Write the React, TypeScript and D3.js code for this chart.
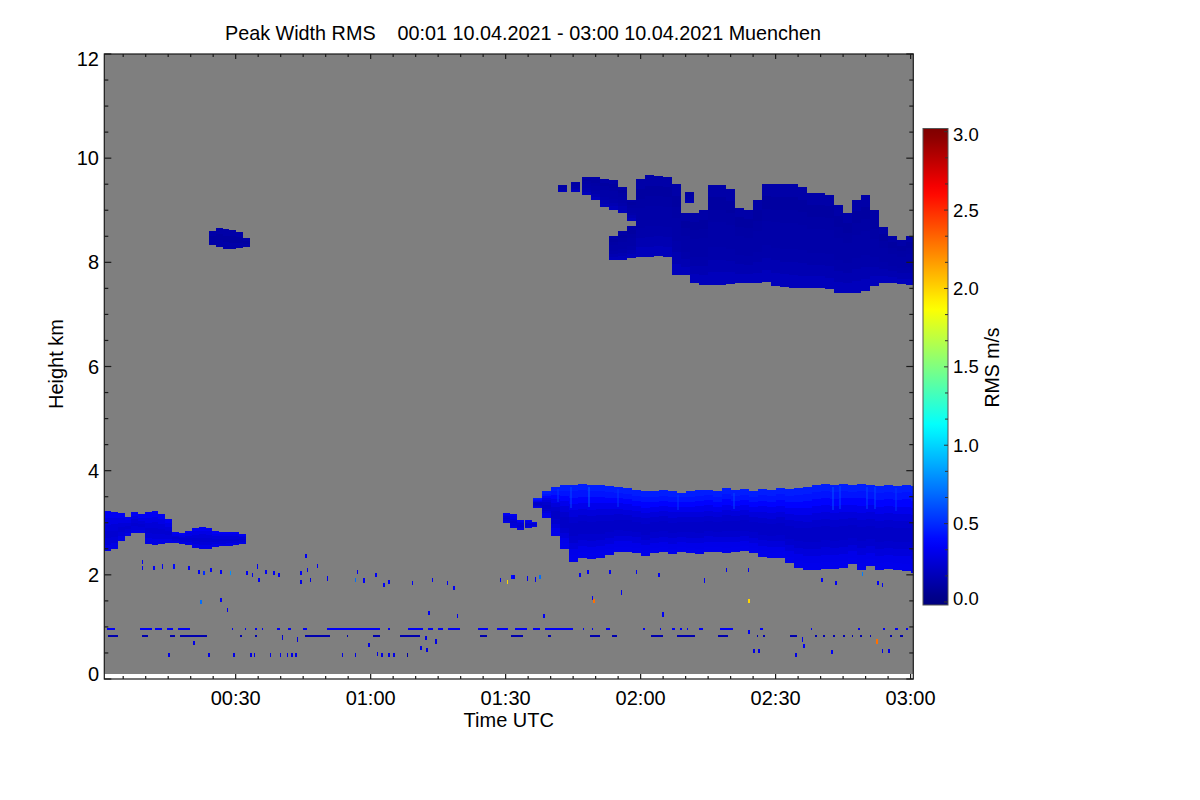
import * as d3 from "d3";

// time in minutes after 00:00 UTC, height in km, RMS in m/s
const timeDomain = [0.8, 180.6];
const heightDomain = [0, 12];
const gateBottom = 0.1;

const timeTickValues = [30, 60, 90, 120, 150, 180];
const timeTickLabels = ["00:30", "01:00", "01:30", "02:00", "02:30", "03:00"];
const heightTickValues = [0, 2, 4, 6, 8, 10, 12];
const rmsTickValues = [0, 0.5, 1, 1.5, 2, 2.5, 3];
const rmsTickLabels = ["0.0", "0.5", "1.0", "1.5", "2.0", "2.5", "3.0"];

// jet-like palette of the colour bar
const jetStops = [0, 0.375, 1.125, 1.875, 2.625, 3];
const jetColors = ["#00007f", "#0000ff", "#00ffff", "#ffff00", "#ff0000", "#7f0000"];

// cloud columns: [start time, bottom km, top km]
const lowerLeftCloud: [number, number, number][] = [
  [0.8, 2.45, 3.22], [2.3, 2.5, 3.2], [3.8, 2.65, 3.18], [5.3, 2.75, 3.12],
  [6.8, 2.8, 3.2], [8.3, 2.8, 3.16], [9.8, 2.6, 3.2], [11.3, 2.58, 3.22],
  [12.8, 2.6, 3.16], [14.3, 2.62, 3.08], [15.8, 2.62, 2.82], [17.3, 2.6, 2.8],
  [18.8, 2.58, 2.84], [20.3, 2.52, 2.9], [21.8, 2.5, 2.92], [23.3, 2.5, 2.9],
  [24.8, 2.54, 2.84], [26.3, 2.55, 2.83], [27.8, 2.56, 2.83], [29.3, 2.57, 2.82],
  [30.8, 2.6, 2.78],
];
const smallHighCloud: [number, number, number][] = [
  [24.1, 8.33, 8.6], [25.6, 8.3, 8.66], [27.1, 8.26, 8.64], [28.6, 8.26, 8.62],
  [30.1, 8.28, 8.58], [31.6, 8.3, 8.46],
];
const lowerBlobs: [number, number, number][] = [
  [89.5, 3.0, 3.19], [91, 2.9, 3.17], [92.5, 2.86, 3.05], [94.3, 2.9, 3.05], [95.5, 2.92, 3.02],
];
const lowerCloud: [number, number, number][] = [
  [96, 3.28, 3.47], [98, 3.1, 3.6], [100, 2.75, 3.69], [102, 2.5, 3.72],
  [104, 2.25, 3.73], [106, 2.32, 3.74], [108, 2.3, 3.73], [110, 2.33, 3.72],
  [112, 2.38, 3.7], [114, 2.44, 3.68], [116, 2.44, 3.66], [118, 2.42, 3.62],
  [120, 2.36, 3.6], [122, 2.42, 3.6], [124, 2.44, 3.62], [126, 2.4, 3.6],
  [128, 2.44, 3.58], [130, 2.42, 3.6], [132, 2.4, 3.62], [134, 2.44, 3.63],
  [136, 2.44, 3.6], [138, 2.42, 3.66], [140, 2.44, 3.62], [142, 2.45, 3.64],
  [144, 2.42, 3.6], [146, 2.34, 3.64], [148, 2.32, 3.62], [150, 2.32, 3.66],
  [152, 2.22, 3.64], [154, 2.14, 3.66], [156, 2.1, 3.68], [158, 2.1, 3.72],
  [160, 2.12, 3.74], [162, 2.12, 3.72], [164, 2.14, 3.74], [166, 2.2, 3.72],
  [168, 2.1, 3.74], [170, 2.17, 3.72], [172, 2.1, 3.7], [174, 2.12, 3.72],
  [176, 2.1, 3.7], [178, 2.08, 3.72], [180, 2.03, 3.7],
];
const upperArm: [number, number, number][] = [
  [101.7, 9.35, 9.49], [104.6, 9.36, 9.54], [107, 9.3, 9.64], [109, 9.2, 9.64],
  [111, 9.06, 9.6], [113, 9.0, 9.58], [115, 8.95, 9.45], [117, 8.8, 9.2],
  [129.8, 9.14, 9.36],
];
const upperCloud: [number, number, number][] = [
  [113, 8.05, 8.5], [115, 8.05, 8.6], [117, 8.08, 8.7], [119, 8.1, 9.6],
  [121, 8.1, 9.67], [123, 8.12, 9.65], [125, 8.1, 9.64], [127, 7.76, 9.5],
  [129, 7.76, 8.95], [131, 7.6, 8.95], [133, 7.57, 9.0], [135, 7.57, 9.49],
  [137, 7.57, 9.49], [139, 7.58, 9.4], [141, 7.6, 9.05], [143, 7.6, 9.0],
  [145, 7.6, 9.2], [147, 7.62, 9.5], [149, 7.55, 9.5], [151, 7.52, 9.5],
  [153, 7.5, 9.5], [155, 7.5, 9.45], [157, 7.5, 9.33], [159, 7.5, 9.33],
  [161, 7.48, 9.3], [163, 7.42, 9.1], [165, 7.42, 8.95], [167, 7.42, 9.2],
  [169, 7.45, 9.3], [171, 7.55, 9.0], [173, 7.6, 8.68], [175, 7.6, 8.5],
  [177, 7.58, 8.42], [179, 7.57, 8.5],
];

// RMS values from cloud top to cloud base
const lowerProfile = [0.46, 0.43, 0.38, 0.32, 0.27, 0.23, 0.21, 0.21, 0.23, 0.27, 0.31, 0.32];
const upperProfile = [0.12, 0.1, 0.11, 0.12, 0.12, 0.13, 0.15, 0.18];
const leftProfile = [0.34, 0.3, 0.26, 0.24, 0.26, 0.3];
const smallProfile = [0.12, 0.1, 0.12];

// brighter streaks in the top of the lower cloud: [time, RMS]
const lowerStreaks: [number, number][] = [
  [101.5, 0.55], [104.3, 0.6], [108.2, 0.7], [114.8, 0.55], [128, 0.55], [140.6, 0.6],
  [162.5, 0.65], [164, 0.6], [170, 0.6], [171.8, 0.6], [176.5, 0.55],
];

// clutter rows: [start time, end time]
const rowAHeight = 0.96;
const rowAValue = 0.35;
const rowASegments: [number, number][] = [
  [1.3, 3.2], [8.7, 11.3], [12.1, 13.6], [14.7, 16.1], [17.2, 19.8], [29.1, 29.5],
  [32.1, 32.4], [34.3, 34.7], [35.8, 36.1], [39.1, 39.8], [41.7, 42.4], [45, 45.8],
  [50.2, 62.1], [63.9, 64.3], [68.4, 71.7], [72.8, 73.9], [75, 76.1], [77.2, 79.8],
  [83.9, 86.1], [88, 90.6], [92.1, 94.7], [96.1, 97.6], [98.7, 105], [107.1, 107.4],
  [109.1, 109.5], [112.3, 113.3], [120.6, 120.9], [124.3, 124.6], [126.9, 127.6],
  [128.7, 129.1], [130.2, 130.6], [133, 133.9], [137.6, 140.6], [146.5, 147.2],
  [157.8, 158.1], [168.4, 168.7], [173.9, 174.3], [176.5, 177.2], [179, 179.5],
];
const rowBHeight = 0.83;
const rowBValue = 0.14;
const rowBSegments: [number, number][] = [
  [1.7, 3.9], [9.1, 10.6], [15.4, 16.5], [17.6, 23.6], [31, 31.3], [34.3, 34.7],
  [40.2, 40.6], [45.4, 51], [54.7, 55], [60.6, 62.1], [66.5, 70.9], [84.3, 85.8],
  [91.3, 93.9], [99.5, 100], [108.7, 111], [113.6, 114.7], [122.4, 125], [128, 132.1],
  [137.2, 139.5], [145.8, 146.1], [147.2, 147.6], [153.2, 154.7], [158.7, 159.1],
  [160.6, 160.9], [162.8, 163.2], [165, 165.4], [166.9, 167.2], [168.7, 169.1],
  [171, 171.3], [175.4, 175.8], [177.6, 178.4],
];

// single gates: [time, height km, RMS]
const scatterDots: [number, number, number][] = [
  [9.1, 2.25, 0.35], [9.1, 2.13, 0.35], [11.7, 2.13, 0.35], [13.6, 2.16, 0.35], [16.1, 2.16, 0.4],
  [19.5, 2.13, 0.35], [21.7, 2.06, 0.35], [22.8, 2.03, 0.5], [24.3, 2.09, 0.35], [26.5, 2.06, 0.35],
  [28.7, 2.03, 0.8], [32.4, 2.03, 0.35], [33.6, 2.0, 0.35], [34.7, 2.16, 0.35], [35, 1.9, 0.35],
  [36.5, 2.06, 0.35], [38.4, 2.03, 0.35], [39.5, 2.0, 0.35], [44.3, 2.03, 0.35], [44.3, 1.87, 0.3],
  [45.4, 2.36, 0.35], [45.8, 2.09, 0.35], [46.5, 1.9, 0.3], [48, 2.17, 0.35], [50.2, 1.93, 0.35],
  [56.9, 2.06, 0.35], [56.5, 1.9, 0.7], [58.4, 1.89, 0.35], [61, 2.0, 0.35], [62.8, 1.8, 0.35],
  [63.9, 1.87, 0.35], [69.1, 1.84, 0.35], [73.6, 1.9, 0.35], [76.9, 1.84, 0.35], [78.4, 1.74, 0.35],
  [88.7, 1.9, 0.35], [90.2, 1.87, 2.0], [91.3, 1.96, 0.4], [91.7, 1.96, 0.35], [94.7, 1.93, 0.35],
  [96.5, 1.91, 0.35], [97.5, 1.96, 0.7], [106.4, 2.0, 0.35], [108.1, 2.05, 0.35], [113, 2.05, 0.35],
  [118.9, 2.05, 0.35], [123.9, 2.0, 0.35], [134, 1.89, 0.35], [138.9, 2.09, 0.35], [143.8, 2.1, 0.35],
  [160.1, 1.9, 0.35], [163.3, 1.85, 0.35], [169.1, 2.02, 0.75], [172.6, 1.85, 0.35], [173.6, 1.8, 0.35],
  [22.1, 1.48, 0.7], [26.5, 1.52, 0.35], [28, 1.32, 0.35], [72.8, 1.27, 0.35], [79.1, 1.21, 0.35],
  [98.4, 1.21, 0.35], [109.1, 1.55, 0.35], [109.5, 1.5, 2.3], [115.6, 1.66, 0.35], [124.8, 1.24, 0.35],
  [143.9, 1.5, 2.0], [20.6, 0.69, 0.3], [40.2, 0.78, 0.3], [43.6, 0.76, 0.3], [59.5, 0.65, 0.3],
  [72.1, 0.78, 0.3], [74.3, 0.72, 0.3], [143.9, 0.9, 0.35], [155.8, 0.76, 0.35], [156.1, 0.63, 0.35],
  [154.3, 0.46, 0.3], [162.4, 0.52, 0.35], [172.3, 0.72, 2.3], [15, 0.46, 0.3], [23.9, 0.46, 0.3],
  [29.5, 0.46, 0.3], [33.2, 0.46, 0.3], [34, 0.46, 0.3], [37.6, 0.46, 0.3], [39.8, 0.46, 0.3],
  [41.3, 0.46, 0.3], [42.4, 0.46, 0.3], [43.2, 0.46, 0.3], [53.6, 0.46, 0.3], [56.5, 0.46, 0.3],
  [61.3, 0.48, 0.3], [62.4, 0.46, 0.3], [63.9, 0.46, 0.3], [65, 0.46, 0.3], [68, 0.46, 0.1],
  [71, 0.6, 0.3], [72.4, 0.56, 0.3], [145, 0.54, 0.3], [146.1, 0.54, 0.3], [173.6, 0.54, 0.3],
  [175, 0.54, 0.3],
];

const font = "'Liberation Sans', Arial, Helvetica, sans-serif";
const plot = { left: 104.3, right: 913.3, top: 54, bottom: 679 };
const bar = { left: 923, right: 948, top: 128.5, bottom: 605 };

const x = d3.scaleLinear().domain(timeDomain).range([plot.left, plot.right]);
const y = d3.scaleLinear().domain(heightDomain).range([plot.bottom, plot.top]);
const cy = d3.scaleLinear().domain([0, 3]).range([602, 131.7]);
const color = d3
  .scaleLinear<string>()
  .domain(jetStops)
  .range(jetColors)
  .interpolate(d3.interpolateRgb)
  .clamp(true);

const R = Math.round;

function cells(columns: [number, number, number][], step: number, profile: number[], id: string) {
  return columns.flatMap(([t, b, top], i) => {
    const x0 = R(x(t));
    const x1 = R(x(t + step));
    const n = profile.length;
    return profile.map((v, k) => {
      const y0 = R(y(top - ((top - b) * k) / n));
      const y1 = R(y(top - ((top - b) * (k + 1)) / n));
      return (
        <rect key={`${id}-${i}-${k}`} x={x0} y={y0} width={x1 - x0} height={Math.max(1, y1 - y0)} fill={color(v)} />
      );
    });
  });
}

function streaks() {
  return lowerStreaks.map(([t, v], i) => {
    const col = lowerCloud.find((c) => t >= c[0] && t < c[0] + 2);
    if (!col) return null;
    const [, b, top] = col;
    const x0 = R(x(t));
    const y0 = R(y(top - 0.04));
    const y1 = R(y(top - (top - b) * 0.3));
    return <rect key={`s${i}`} x={x0} y={y0} width={2} height={y1 - y0} fill={color(v)} opacity={0.45} />;
  });
}

function rows(segs: [number, number][], h: number, v: number, id: string) {
  return segs.map(([t0, t1], i) => {
    const x0 = R(x(t0));
    const w = Math.max(1, R(x(t1)) - x0);
    return <rect key={`${id}${i}`} x={x0} y={R(y(h + 0.02))} width={w} height={2} fill={color(v)} />;
  });
}

export default function App() {
  const minorX = d3.range(5, 181, 5);
  const minorY = d3.range(0, 12.01, 0.5);
  const minorC = d3.range(0, 18.5).map((i) => i / 6);
  const gradStops = d3.range(0, 1.0001, 0.02);
  const axisColor = "#1a1a1a";

  return (
    <svg
      width={1200}
      height={800}
      style={{ position: "absolute", left: 0, top: 0, background: "#fff" }}
      fontFamily={font}
    >
      <defs>
        <clipPath id="plotClip">
          <rect x={plot.left} y={plot.top} width={plot.right - plot.left} height={plot.bottom - plot.top} />
        </clipPath>
        <linearGradient id="jet" x1="0" y1="1" x2="0" y2="0">
          {gradStops.map((o) => (
            <stop key={o} offset={o} stopColor={color(-0.02 + o * 3.04)} />
          ))}
        </linearGradient>
      </defs>

      <text x={523} y={40} textAnchor="middle" fontSize={19.8} fill="#000">
        {"Peak Width RMS\u00a0\u00a0\u00a0 00:01 10.04.2021 - 03:00 10.04.2021 Muenchen"}
      </text>

      {/* data area */}
      <g clipPath="url(#plotClip)" shapeRendering="crispEdges">
        <rect
          x={plot.left}
          y={y(heightDomain[1])}
          width={plot.right - plot.left}
          height={y(gateBottom) - y(heightDomain[1])}
          fill="#7f7f7f"
        />
        {cells(lowerLeftCloud, 1.5, leftProfile, "ll")}
        {cells(smallHighCloud, 1.5, smallProfile, "sh")}
        {cells(lowerBlobs, 1.5, leftProfile, "lb")}
        {cells(lowerCloud, 2, lowerProfile, "lc")}
        {streaks()}
        {cells(upperArm, 2, upperProfile, "ua")}
        {cells(upperCloud, 2, upperProfile, "uc")}
        {rows(rowASegments, rowAHeight, rowAValue, "ra")}
        {rows(rowBSegments, rowBHeight, rowBValue, "rb")}
        {scatterDots.map(([t, h, v], i) => (
          <rect
            key={`d${i}`}
            x={R(x(t))}
            y={R(y(h + 0.04))}
            width={Math.max(1, R(x(t + 0.35)) - R(x(t)))}
            height={R(y(h - 0.04)) - R(y(h + 0.04))}
            fill={color(v)}
          />
        ))}
      </g>

      {/* frame and ticks */}
      <g stroke={axisColor} strokeWidth={1.2} fill="none">
        <rect x={plot.left} y={plot.top} width={plot.right - plot.left} height={plot.bottom - plot.top} />
        {minorX.map((t) => {
          const len = t % 30 === 0 ? 5 : 3;
          return (
            <g key={`tx${t}`}>
              <line x1={x(t)} x2={x(t)} y1={plot.bottom} y2={plot.bottom - len} />
              <line x1={x(t)} x2={x(t)} y1={plot.top} y2={plot.top + len} />
            </g>
          );
        })}
        {minorY.map((h) => {
          const len = h % 2 === 0 ? 7 : 4;
          return (
            <g key={`ty${h}`}>
              <line x1={plot.left} x2={plot.left + len} y1={y(h)} y2={y(h)} />
              <line x1={plot.right} x2={plot.right - len} y1={y(h)} y2={y(h)} />
            </g>
          );
        })}
      </g>

      <g fontSize={20} fill="#000">
        {timeTickValues.map((t, i) => (
          <text key={`lx${t}`} x={x(t)} y={705} textAnchor="middle">
            {timeTickLabels[i]}
          </text>
        ))}
        {heightTickValues.map((h) => (
          <text
            key={`ly${h}`}
            x={99}
            y={Math.min(Math.max(y(h), plot.top + 4.5), plot.bottom - 5)}
            textAnchor="end"
            dominantBaseline="central"
          >
            {h}
          </text>
        ))}
        <text x={(plot.left + plot.right) / 2} y={727} textAnchor="middle">
          Time UTC
        </text>
        <text transform="translate(63,364) rotate(-90)" textAnchor="middle">
          Height km
        </text>
      </g>

      {/* colour bar */}
      <rect
        x={bar.left}
        y={bar.top}
        width={bar.right - bar.left}
        height={bar.bottom - bar.top}
        fill="url(#jet)"
        stroke="#555"
        strokeWidth={1}
      />
      <g stroke="#333" strokeWidth={1}>
        {minorC.map((v, i) => (
          <line key={`ct${i}`} x1={bar.right} x2={bar.right - (i % 3 === 0 ? 4 : 3)} y1={cy(v)} y2={cy(v)} />
        ))}
      </g>
      <g fontSize={18.5} fill="#000">
        {rmsTickValues.map((v, i) => (
          <text
            key={`cl${v}`}
            x={953}
            y={Math.min(Math.max(cy(v), bar.top + 6), bar.bottom - 7)}
            dominantBaseline="central"
          >
            {rmsTickLabels[i]}
          </text>
        ))}
        <text transform="translate(999,367.5) rotate(-90)" textAnchor="middle" fontSize={19.5}>
          RMS m/s
        </text>
      </g>
    </svg>
  );
}
